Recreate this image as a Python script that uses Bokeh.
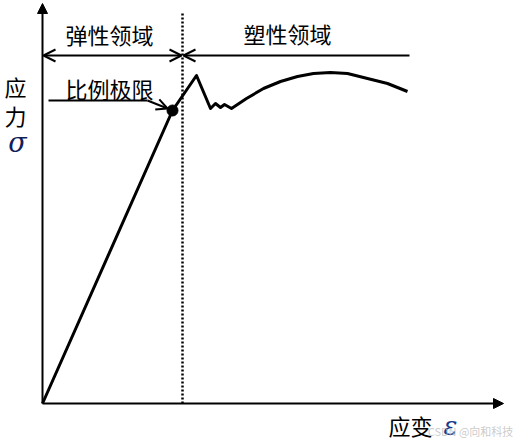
from bokeh.plotting import figure
from bokeh.models import Range1d, Arrow, OpenHead, NormalHead
from bokeh.core.properties import value
from bokeh.embed import file_html
from bokeh.resources import INLINE

# Stress-strain curve (arbitrary units)
strain = [0, 130, 154, 168, 173, 178, 182, 189, 204, 221, 238, 255, 271, 288,
          305, 321, 333, 345, 355, 365]
stress = [0, 293, 328, 295, 300, 296, 299, 295, 305, 315, 322, 327, 330, 331,
          330, 326, 323, 320, 316, 312]
prop_limit_index = 1          # 比例极限 point
elastic_limit_strain = 140    # boundary between elastic and plastic region
region_labels = ["弹性领域", "塑性领域"]
limit_label = "比例极限"
y_label = ["应", "力"]
y_symbol = "σ"
x_label = "应变"
x_symbol = "ε"

CJK = "Noto Sans CJK SC"
SERIF = "DejaVu Serif"

p = figure(width=513, height=441, output_backend="svg", toolbar_location=None,
           x_range=Range1d(-42, 471), y_range=Range1d(-38, 403),
           min_border=0, outline_line_color=None)
p.axis.visible = False
p.grid.visible = False
p.background_fill_color = "white"
p.border_fill_color = "white"

# axes with arrows
p.add_layout(Arrow(x_start=0, y_start=0, x_end=0, y_end=400, line_width=2,
                   end=NormalHead(size=10, fill_color="black", line_color="black")))
p.add_layout(Arrow(x_start=0, y_start=0, x_end=461, y_end=0, line_width=2,
                   end=NormalHead(size=10, fill_color="black", line_color="black")))

# elastic / plastic boundary
p.line([elastic_limit_strain, elastic_limit_strain], [0, 391], line_width=2.5,
       line_dash="2 2", line_color="black")

# region arrows
p.add_layout(Arrow(x_start=1, y_start=348, x_end=elastic_limit_strain - 1, y_end=348,
                   line_width=2,
                   start=OpenHead(size=12, line_width=2),
                   end=OpenHead(size=12, line_width=2)))
p.add_layout(Arrow(x_start=367, y_start=348, x_end=elastic_limit_strain + 1, y_end=348,
                   line_width=2, end=OpenHead(size=12, line_width=2)))

# curve
p.line(strain, stress, line_width=3, line_color="black", line_join="round")
px, py = strain[prop_limit_index], stress[prop_limit_index]
p.scatter([px], [py], size=11, color="black")

# pointer to proportional limit
p.line([6, px - 25], [py + 10, py + 10], line_width=2, line_color="black")
p.add_layout(Arrow(x_start=px - 25, y_start=py + 10, x_end=px - 5, y_end=py + 2,
                   line_width=2, end=OpenHead(size=11, line_width=2)))

# texts
p.text(x=[67, 245], y=[370, 371], text=region_labels, text_font=value(CJK),
       text_font_size="22px", text_align="center", text_baseline="middle")
p.text(x=[67], y=[316], text=[limit_label], text_font=value(CJK),
       text_font_size="22px", text_align="center", text_baseline="middle")
p.text(x=[-27, -27], y=[318, 289], text=y_label, text_font=value(CJK),
       text_font_size="22px", text_align="center", text_baseline="middle")
p.text(x=[-25], y=[261], text=[y_symbol], text_font=value(SERIF),
       text_font_style="italic", text_font_size="27px", text_color="#10205a",
       text_align="center", text_baseline="middle")
p.text(x=[368], y=[-21], text=[x_label], text_font=value(CJK),
       text_font_size="22px", text_align="center", text_baseline="middle")
p.text(x=[408], y=[-22], text=[x_symbol], text_font=value(SERIF),
       text_font_style="italic", text_font_size="26px", text_color="#1a3a8a",
       text_align="center", text_baseline="middle")
p.text(x=[428], y=[-27], text=["CSDN @向和科技"], text_font=value(CJK),
       text_font_size="11px", text_color="#bdbdbd", text_alpha=0.8,
       text_align="center", text_baseline="middle")

open("out.html", "w").write(file_html(p, INLINE))
